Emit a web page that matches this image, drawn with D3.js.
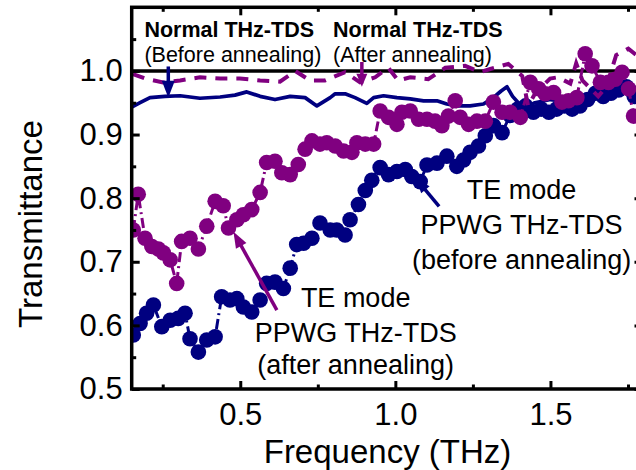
<!DOCTYPE html>
<html><head><meta charset="utf-8">
<script src="https://cdn.jsdelivr.net/npm/d3@7"></script>
<style>
body{margin:0;background:#fff}
text{font-family:"Liberation Sans",Arial,Helvetica,sans-serif}
</style>
</head><body>
<svg id="c" width="636" height="470"></svg>
<script>
// ---- data ----
const navy = "#000080", purple = "#800080";

// Normal THz-TDS before annealing (solid navy line)
const normBeforeF = [0.15,0.177,0.209,0.257,0.306,0.370,0.435,0.483,0.521,0.564,0.612,0.661,0.709,0.747,0.790,0.806,0.838,0.870,0.908,0.930,0.962,1.005,1.048,1.091,1.134,1.166,1.198,1.241,1.284,1.316,1.340,1.360,1.378,1.400,1.424,1.45,1.50,1.55,1.60,1.65,1.70,1.75,1.80];
const normBeforeT = [0.943,0.950,0.958,0.960,0.961,0.957,0.959,0.962,0.967,0.960,0.955,0.960,0.958,0.945,0.958,0.964,0.964,0.958,0.949,0.958,0.961,0.958,0.956,0.953,0.953,0.948,0.945,0.945,0.948,0.958,0.968,0.975,0.960,0.948,0.943,0.950,0.955,0.952,0.955,0.958,0.965,0.975,0.970];

// Normal THz-TDS after annealing (dashed purple line)
const normAfterF = [0.154,0.193,0.251,0.306,0.370,0.435,0.499,0.564,0.628,0.677,0.725,0.773,0.838,0.886,0.935,0.977,1.009,1.048,1.106,1.161,1.225,1.273,1.306,1.364,1.409,1.428,1.451,1.499,1.525,1.564,1.583,1.603,1.654,1.680,1.712,1.751,1.790];
const normAfterT = [0.995,0.988,0.982,0.985,0.990,0.988,0.988,0.985,0.983,1.000,0.985,0.985,0.998,0.982,0.990,1.005,0.985,0.990,0.987,1.005,1.008,0.998,1.003,1.011,0.992,0.945,0.965,0.988,0.990,0.980,1.012,0.985,0.960,0.975,1.025,1.035,1.020];

// TE mode PPWG THz-TDS before annealing (navy dots)
const teBeforeF = [0.155,0.177,0.198,0.220,0.247,0.274,0.300,0.322,0.338,0.365,0.392,0.419,0.440,0.467,0.489,0.510,0.537,0.564,0.585,0.612,0.639,0.661,0.682,0.704,0.731,0.757,0.790,0.811,0.838,0.854,0.881,0.903,0.924,0.951,0.978,1.005,1.032,1.053,1.080,1.102,1.134,1.166,1.198,1.220,1.241,1.268,1.290,1.316,1.344,1.370,1.395,1.420,1.445,1.470,1.495,1.520,1.545,1.570,1.595,1.620,1.645,1.670,1.695,1.720,1.745,1.770,1.795];
const teBeforeT = [0.585,0.603,0.619,0.632,0.598,0.608,0.611,0.619,0.579,0.558,0.577,0.582,0.645,0.640,0.642,0.629,0.621,0.640,0.666,0.668,0.658,0.690,0.727,0.729,0.737,0.761,0.750,0.750,0.742,0.766,0.790,0.812,0.828,0.848,0.837,0.842,0.845,0.834,0.826,0.852,0.855,0.866,0.850,0.860,0.872,0.882,0.898,0.914,0.903,0.930,0.940,0.945,0.935,0.940,0.935,0.940,0.945,0.940,0.945,0.955,0.965,0.960,0.965,0.970,0.975,0.960,0.970];

// TE mode PPWG THz-TDS after annealing (purple dots)
const teAfterF = [0.155,0.171,0.193,0.215,0.236,0.252,0.274,0.295,0.311,0.338,0.365,0.392,0.419,0.445,0.462,0.489,0.510,0.537,0.564,0.585,0.612,0.634,0.661,0.687,0.709,0.731,0.757,0.779,0.806,0.833,0.860,0.876,0.903,0.930,0.951,0.978,1.005,1.021,1.048,1.075,1.102,1.128,1.150,1.171,1.193,1.209,1.236,1.263,1.290,1.316,1.344,1.370,1.403,1.435,1.462,1.483,1.510,1.537,1.558,1.585,1.612,1.634,1.661,1.687,1.709,1.731,1.752,1.768];
const teAfterT = [0.750,0.806,0.737,0.724,0.720,0.714,0.703,0.666,0.732,0.737,0.720,0.756,0.795,0.788,0.753,0.766,0.774,0.782,0.809,0.856,0.858,0.840,0.837,0.853,0.877,0.890,0.885,0.887,0.882,0.874,0.872,0.887,0.885,0.885,0.937,0.927,0.916,0.935,0.937,0.924,0.924,0.921,0.914,0.929,0.953,0.927,0.916,0.921,0.921,0.951,0.935,0.935,0.927,0.982,0.972,0.964,0.966,0.951,0.953,0.958,1.027,1.008,0.982,0.982,0.987,0.998,0.972,0.929];

const xMajor = [0.5,1.0,1.5];
const xMinor = [0.25,0.75,1.25,1.75];
const yMajor = [0.5,0.6,0.7,0.8,0.9,1.0];
const yMinor = [0.55,0.65,0.75,0.85,0.95,1.05];

// annotations (data coordinates)
const labels = [
  {f:0.191, t:1.054, s:"Normal THz-TDS", bold:true, anchor:"start", size:21.5},
  {f:0.191, t:1.014, s:"(Before annealing)", bold:false, anchor:"start", size:21.5},
  {f:0.799, t:1.054, s:"Normal THz-TDS", bold:true, anchor:"start", size:21.5},
  {f:0.799, t:1.014, s:"(After annealing)", bold:false, anchor:"start", size:21.5},
  {f:1.407, t:0.799, s:"TE mode", bold:false, anchor:"middle", size:27},
  {f:1.407, t:0.744, s:"PPWG THz-TDS", bold:false, anchor:"middle", size:27},
  {f:1.407, t:0.689, s:"(before annealing)", bold:false, anchor:"middle", size:27},
  {f:0.872, t:0.629, s:"TE mode", bold:false, anchor:"middle", size:27},
  {f:0.872, t:0.574, s:"PPWG THz-TDS", bold:false, anchor:"middle", size:27},
  {f:0.872, t:0.523, s:"(after annealing)", bold:false, anchor:"middle", size:27}
];
const arrows = [
  {f0:0.268, t0:1.007, f1:0.268, t1:0.958, color:navy, w:3.5, hl:17, hw:13},
  {f0:0.892, t0:1.014, f1:0.892, t1:0.975, color:purple, w:3.5, hl:13, hw:11},
  {f0:0.618, t0:0.624, f1:0.478, t1:0.747, color:purple, w:3.5, hl:16, hw:12},
  {f0:1.141, t0:0.787, f1:1.068, t1:0.830, color:navy, w:3.5, hl:14, hw:11}
];

// ---- drawing ----
const svg = d3.select("#c");
const x = d3.scaleLinear().domain([0.15,1.8]).range([131.7,643.5]);
const y = d3.scaleLinear().domain([0.5,1.1]).range([389,7.3]);
const [X0,X1] = x.range(), [Y0,Y1] = y.range();

svg.append("defs").append("clipPath").attr("id","clip")
  .append("rect").attr("x",X0).attr("y",Y1).attr("width",X1-X0).attr("height",Y0-Y1);

const plot = svg.append("g").attr("clip-path","url(#clip)");

// reference line at 1.0
plot.append("line").attr("x1",X0).attr("x2",X1).attr("y1",y(1.0)).attr("y2",y(1.0))
  .attr("stroke","#000").attr("stroke-width",3.5);

const line = d3.line().x(d=>x(d[0])).y(d=>y(d[1]));
const zip = (a,b)=>a.map((v,i)=>[v,b[i]]);

// normal before: solid navy
plot.append("path").datum(zip(normBeforeF,normBeforeT)).attr("d",line)
  .attr("fill","none").attr("stroke",navy).attr("stroke-width",3.7).attr("stroke-linejoin","round");

// TE before dots
const nb = zip(teBeforeF,teBeforeT);
plot.append("path").datum(nb).attr("d",line).attr("fill","none").attr("stroke",navy)
  .attr("stroke-width",3).attr("stroke-dasharray","10,4,2,4");
plot.selectAll("circle.nb").data(nb).join("circle").attr("class","nb")
  .attr("cx",d=>x(d[0])).attr("cy",d=>y(d[1])).attr("r",7.8).attr("fill",navy);

// normal after: dashed purple
plot.append("path").datum(zip(normAfterF,normAfterT)).attr("d",line)
  .attr("fill","none").attr("stroke",purple).attr("stroke-width",4).attr("stroke-dasharray","12,9");

// TE after dots
const pa = zip(teAfterF,teAfterT);
plot.append("path").datum(pa).attr("d",line).attr("fill","none").attr("stroke",purple)
  .attr("stroke-width",3).attr("stroke-dasharray","10,4,2,4");
plot.selectAll("circle.pa").data(pa).join("circle").attr("class","pa")
  .attr("cx",d=>x(d[0])).attr("cy",d=>y(d[1])).attr("r",7.8).attr("fill",purple);

// arrows
arrows.forEach(a=>{
  const tx=x(a.f0), ty=y(a.t0), hx=x(a.f1), hy=y(a.t1);
  const dx=hx-tx, dy=hy-ty, L=Math.hypot(dx,dy), ux=dx/L, uy=dy/L;
  const bx=hx-ux*a.hl, by=hy-uy*a.hl, nx=-uy, ny=ux;
  svg.append("line").attr("x1",tx).attr("y1",ty).attr("x2",bx+ux*2).attr("y2",by+uy*2)
    .attr("stroke",a.color).attr("stroke-width",a.w);
  svg.append("polygon").attr("points",[[hx,hy],[bx+nx*a.hw/2,by+ny*a.hw/2],[bx-nx*a.hw/2,by-ny*a.hw/2]].map(p=>p.join(",")).join(" "))
    .attr("fill",a.color);
});

// labels
svg.selectAll("text.ann").data(labels).join("text").attr("class","ann")
  .attr("x",d=>x(d.f)).attr("y",d=>y(d.t)).attr("text-anchor",d=>d.anchor)
  .attr("font-size",d=>d.size).attr("font-weight",d=>d.bold?"bold":"normal")
  .attr("fill","#000").text(d=>d.s);

// axes
function styleAxis(g){
  g.select(".domain").remove();
  g.selectAll(".tick line").attr("stroke","#000").attr("stroke-width",3);
  g.selectAll(".tick text").attr("font-size",31).attr("fill","#000")
    .attr("font-family",'"Liberation Sans",Arial,sans-serif');
}
const fmt = d3.format(".1f");
svg.append("g").attr("transform",`translate(0,${Y0})`)
  .call(d3.axisBottom(x).tickValues(xMajor).tickSize(-8).tickPadding(14).tickFormat(fmt)).call(styleAxis);
svg.append("g").attr("transform",`translate(0,${Y0})`)
  .call(d3.axisBottom(x).tickValues(xMinor).tickSize(-4.5).tickFormat("")).call(styleAxis);
svg.append("g").attr("transform",`translate(0,${Y1})`)
  .call(d3.axisTop(x).tickValues(xMajor).tickSize(-8).tickFormat("")).call(styleAxis);
svg.append("g").attr("transform",`translate(0,${Y1})`)
  .call(d3.axisTop(x).tickValues(xMinor).tickSize(-4.5).tickFormat("")).call(styleAxis);
svg.append("g").attr("transform",`translate(${X0},0)`)
  .call(d3.axisLeft(y).tickValues(yMajor).tickSize(-8).tickPadding(9).tickFormat(fmt)).call(styleAxis);
svg.append("g").attr("transform",`translate(${X0},0)`)
  .call(d3.axisLeft(y).tickValues(yMinor).tickSize(-4.5).tickFormat("")).call(styleAxis);
svg.append("g").attr("transform",`translate(${X1},0)`)
  .call(d3.axisRight(y).tickValues(yMajor).tickSize(-9).tickFormat("")).call(styleAxis);
svg.append("g").attr("transform",`translate(${X1},0)`)
  .call(d3.axisRight(y).tickValues(yMinor).tickSize(-4.5).tickFormat("")).call(styleAxis);

// frame
svg.append("rect").attr("x",X0).attr("y",Y1).attr("width",X1-X0).attr("height",Y0-Y1)
  .attr("fill","none").attr("stroke","#000").attr("stroke-width",3.5);

// axis titles
svg.append("text").attr("x",387.5).attr("y",463).attr("text-anchor","middle")
  .attr("font-size",33).attr("fill","#000").text("Frequency (THz)");
svg.append("text").attr("transform",`translate(41.5,224) rotate(-90)`).attr("text-anchor","middle")
  .attr("font-size",33).attr("fill","#000").text("Transmittance");
</script>
</body></html>
